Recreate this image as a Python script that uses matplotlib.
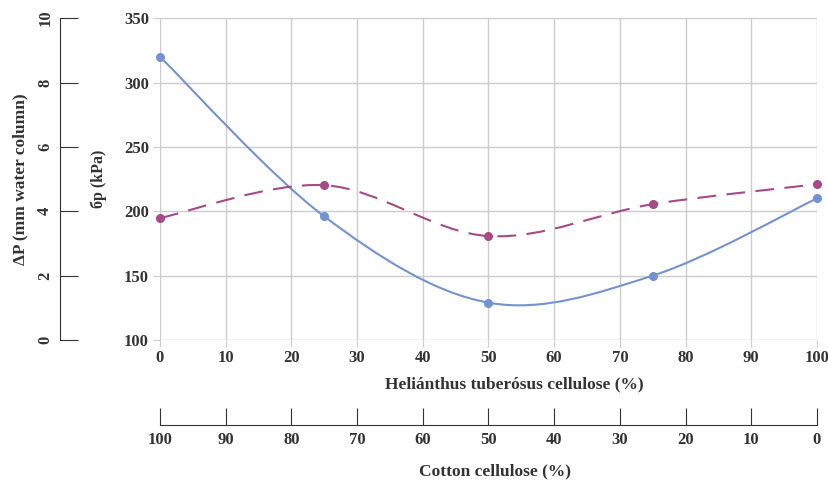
import numpy as np
import matplotlib
matplotlib.use("Agg")
import matplotlib.pyplot as plt
from matplotlib.path import Path
from matplotlib.patches import PathPatch

plt.rcParams['font.family'] = ['Liberation Serif', 'DejaVu Serif']
plt.rcParams['font.weight'] = 'bold'
plt.rcParams['axes.labelweight'] = 'bold'

# data
helianthus = [0, 25, 50, 75, 100]
sigma_p = [320, 196, 129, 150, 210]          # kPa
delta_p = [3.79, 4.81, 3.23, 4.22, 4.84]     # mm water column
x_ticks = [0, 10, 20, 30, 40, 50, 60, 70, 80, 90, 100]
cotton_ticks = [100, 90, 80, 70, 60, 50, 40, 30, 20, 10, 0]

BLUE = "#7393d0"
PINK = "#a54a85"
GRID = "#cccccc"
TXT = "#333333"


def smooth_path(xs, ys):
    # excel-like smoothed line drawn as cubic bezier segments
    pts = np.column_stack([xs, ys]).astype(float)
    verts = [pts[0]]
    codes = [Path.MOVETO]
    n = len(pts)
    for i in range(n - 1):
        p0 = pts[max(i - 1, 0)]
        p1 = pts[i]
        p2 = pts[i + 1]
        p3 = pts[min(i + 2, n - 1)]
        c1 = p1 + (p2 - p0) / 6.0
        c2 = p2 - (p3 - p1) / 6.0
        verts += [c1, c2, p2]
        codes += [Path.CURVE4] * 3
    return Path(verts, codes)


fig = plt.figure(figsize=(8.29, 4.84), dpi=100)
ax = fig.add_axes([0.193, 0.2975, 0.7925, 0.665])

ax.set_xlim(0, 100)
ax.set_ylim(100, 350)
ax.set_xticks(x_ticks)
ax.set_yticks([100, 150, 200, 250, 300, 350])
ax.grid(True, color=GRID, linewidth=1)
for s in ax.spines.values():
    s.set_visible(False)
ax.tick_params(axis='both', colors=GRID, labelcolor=TXT, labelsize=12, length=5)
ax.tick_params(axis='y', pad=3)
ax.tick_params(axis='x', pad=2)
ax.set_xlabel("Heliánthus tuberósus cellulose (%)", fontsize=12.5, color=TXT, labelpad=8)
ax.xaxis.label.set_x(0.539)
ax.set_ylabel("бp (kPa)", fontsize=11.5, color=TXT, labelpad=12)

ax.add_patch(PathPatch(smooth_path(helianthus, sigma_p), fill=False,
                       edgecolor=BLUE, linewidth=1.5, zorder=3))
ax.plot(helianthus, sigma_p, 'o', color=BLUE, markersize=5.5, zorder=4, clip_on=False)

# delta P on a twin axis drawn on the far left
ax2 = ax.twinx()
ax2.set_ylim(0, 10)
ax2.set_yticks([0, 2, 4, 6, 8, 10])
for s in ax2.spines.values():
    s.set_visible(False)
ax2.spines['left'].set_visible(True)
ax2.spines['left'].set_position(('axes', -0.152))
ax2.spines['left'].set_color(TXT)
ax2.yaxis.set_ticks_position('left')
ax2.yaxis.set_label_position('left')
ax2.tick_params(axis='y', direction='in', length=13, color=TXT, labelcolor=TXT,
                labelsize=12, pad=5)
for lb in ax2.get_yticklabels():
    lb.set_rotation(90)
    lb.set_va('center')
ax2.set_ylabel("ΔP (mm water column)", fontsize=12.5, color=TXT, labelpad=6)

ax2.add_patch(PathPatch(smooth_path(helianthus, delta_p), fill=False,
                        edgecolor=PINK, linewidth=1.5, linestyle=(0, (9, 5)), zorder=3))
ax2.plot(helianthus, delta_p, 'o', color=PINK, markersize=5.5, zorder=4, clip_on=False)

# cotton cellulose scale underneath
ax3 = fig.add_axes([0.193, 0.122, 0.7925, 0.05])
ax3.patch.set_visible(False)
ax3.set_xlim(100, 0)
ax3.set_xticks(cotton_ticks)
ax3.set_yticks([])
for k in ['left', 'right', 'top']:
    ax3.spines[k].set_visible(False)
ax3.spines['bottom'].set_color(TXT)
ax3.tick_params(axis='x', direction='in', length=12, color=TXT, labelcolor=TXT,
                labelsize=12, pad=5)
ax3.set_xlabel("Cotton cellulose (%)", fontsize=12.5, color=TXT, labelpad=11)
ax3.xaxis.label.set_x(0.51)

fig.savefig("out.png", dpi=100)
